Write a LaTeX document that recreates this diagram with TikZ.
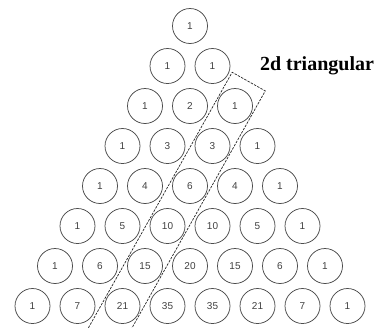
\documentclass[tikz,border=0pt]{standalone}
\usepackage{fontspec}
\setmainfont{Liberation Serif}
\newfontfamily\numfont{Liberation Sans}
\usetikzlibrary{calc}
\tikzset{
  cell/.style={circle,draw=black!70,line width=0.75pt,minimum size=35pt,inner sep=0pt,
    font=\numfont\fontsize{10}{12}\selectfont,text=black!75},
  boxline/.style={draw=black!85,line width=0.7pt,dash pattern=on 2.5pt off 1.2pt},
  lbltext/.style={font=\bfseries\fontsize{20}{24}\selectfont,inner sep=0pt}
}
\begin{document}
\begin{tikzpicture}[x=1pt,y=-1pt]
\useasboundingbox (0,0) rectangle (385,327);
\clip (0,0) rectangle (385,327);
\foreach \r/\row in {0/{1},1/{1,1},2/{1,2,1},3/{1,3,3,1},4/{1,4,6,4,1},5/{1,5,10,10,5,1},6/{1,6,15,20,15,6,1},7/{1,7,21,35,35,21,7,1}}{
  \foreach \v [count=\k from 0] in \row {
    \node[cell] (n\r-\k) at ({190+(\k-\r/2)*45},{26+40*\r}) {\v};
  }
}
\node[lbltext] (lbl) at (317,66) {2d triangular};
\coordinate (far) at ($(n2-2)!500pt!(n7-2)$);
\coordinate (tl) at ($(n2-2)!-28pt!(far)!19pt!-90:(far)$);
\coordinate (tr) at ($(n2-2)!-28pt!(far)!19pt!90:(far)$);
\coordinate (bl) at ($(n2-2)!280pt!(far)!19pt!-90:(far)$);
\coordinate (br) at ($(n2-2)!280pt!(far)!19pt!90:(far)$);
\draw[boxline] (bl) -- (tl) -- (tr) -- (br);
\end{tikzpicture}
\end{document}
